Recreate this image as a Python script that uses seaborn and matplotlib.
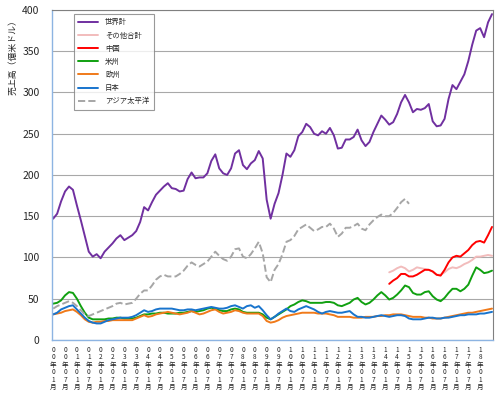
#!/usr/bin/env python3
"""Monthly semiconductor sales by region (3-month moving average)."""

import matplotlib
matplotlib.use("Agg")
import matplotlib.pyplot as plt
import numpy as np
import pandas as pd
import seaborn as sns


# world and regions: every 2 months from 2000-01 (month index 0, 2, ..., 222)
world = [147, 153, 168, 180, 186, 182, 163, 145, 126, 107, 101, 104, 99, 107, 112, 117,
         123, 127, 121, 124, 127, 132, 143, 161, 157, 167, 176, 181, 186, 190, 184, 183,
         180, 181, 195, 203, 196, 197, 197, 202, 217, 225, 208, 202, 200, 208, 226, 230,
         212, 207, 214, 218, 229, 220, 170, 147, 165, 178, 200, 226, 222, 230, 247, 252,
         262, 258, 250, 248, 253, 250, 257, 248, 232, 233, 243, 243, 246, 255, 242, 235,
         240, 252, 262, 272, 267, 261, 264, 274, 288, 297, 288, 276, 280, 279, 281, 286,
         265, 259, 260, 268, 292, 309, 304, 313, 322, 338, 358, 375, 378, 367, 385, 395]
americas = [44, 45, 48, 54, 58, 57, 50, 41, 33, 27, 25, 25, 25, 25, 26, 26,
            27, 27, 26, 26, 26, 27, 29, 31, 31, 32, 32, 33, 33, 32, 32, 32,
            33, 33, 34, 35, 34, 35, 36, 38, 39, 38, 36, 35, 35, 37, 38, 37,
            34, 33, 33, 33, 33, 31, 27, 25, 28, 31, 34, 37, 41, 43, 46, 48,
            47, 45, 45, 45, 45, 46, 46, 45, 42, 41, 43, 45, 49, 51, 46, 43,
            45, 49, 54, 58, 54, 49, 51, 55, 60, 66, 64, 57, 55, 55, 58, 59,
            53, 49, 47, 51, 57, 62, 62, 59, 62, 67, 78, 88, 85, 81, 82, 84]
europe = [31, 32, 33, 35, 36, 37, 34, 30, 25, 22, 21, 22, 22, 23, 23, 24,
          24, 24, 24, 24, 24, 26, 28, 30, 28, 29, 31, 32, 33, 34, 33, 32,
          31, 32, 33, 35, 33, 31, 32, 34, 36, 37, 34, 32, 33, 34, 36, 35,
          33, 32, 32, 32, 32, 29, 23, 21, 22, 24, 27, 29, 30, 31, 32, 33,
          33, 33, 33, 32, 32, 32, 31, 30, 28, 28, 28, 28, 27, 27, 27, 28,
          28, 28, 29, 29, 30, 30, 31, 31, 31, 30, 29, 28, 28, 28, 27, 27,
          26, 26, 26, 27, 28, 29, 30, 31, 32, 33, 33, 34, 35, 36, 37, 38]
japan = [31, 33, 37, 39, 41, 42, 37, 32, 27, 23, 21, 20, 20, 22, 24, 25,
         26, 27, 27, 27, 28, 30, 33, 36, 34, 35, 37, 38, 38, 38, 38, 37,
         36, 36, 37, 37, 36, 37, 38, 39, 40, 39, 38, 38, 39, 41, 42, 40,
         38, 41, 42, 39, 41, 36, 30, 25, 28, 32, 35, 38, 35, 34, 37, 39,
         41, 39, 37, 34, 32, 34, 35, 34, 33, 33, 34, 35, 31, 28, 28, 27,
         27, 28, 29, 30, 29, 28, 29, 30, 30, 29, 26, 25, 25, 25, 26, 27,
         27, 26, 26, 27, 27, 28, 29, 30, 30, 31, 31, 31, 32, 32, 33, 34]
# アジア太平洋: 2000-01 .. 2015-01
asia_pacific = [38, 41, 43, 45, 47, 45, 41, 36, 31, 29, 31, 33, 35, 37, 39, 41,
                44, 45, 43, 44, 45, 50, 56, 60, 60, 66, 73, 77, 79, 77, 77, 77,
                80, 84, 90, 94, 91, 89, 92, 95, 101, 107, 102, 98, 96, 101, 110, 111,
                101, 99, 104, 111, 119, 105, 76, 70, 85, 92, 104, 119, 121, 126, 134, 137,
                140, 136, 132, 134, 137, 137, 141, 135, 125, 129, 136, 136, 138, 141, 135, 133,
                140, 145, 149, 152, 150, 150, 154, 160, 167, 171, 165]
# 中国 / その他合計: 2014-03 .. 2018-07
china = [68, 72, 75, 80, 80, 77, 77, 79, 82, 85, 85, 83, 79, 78, 85, 94,
         100, 102, 101, 105, 109, 115, 119, 120, 118, 127, 137]
others = [82, 84, 87, 89, 87, 83, 85, 88, 87, 86, 85, 83, 79, 79, 82, 86,
          88, 87, 89, 92, 94, 97, 101, 101, 102, 103, 102]

tick_labels = [f"{y:02d}年{mo:02d}月" for y in range(0, 19) for mo in (1, 7)][:37]

STEP = 2
CHINA_START = 170


def main() -> None:
    sns.set_style("white")
    plt.rcParams["font.family"] = ["Noto Sans CJK JP", "DejaVu Sans"]

    m_all = np.arange(len(world)) * STEP
    m_ap = np.arange(len(asia_pacific)) * STEP
    m_cn = CHINA_START + np.arange(len(china)) * STEP

    fig = plt.figure(figsize=(5.0, 3.99), dpi=100)
    ax = fig.add_axes([0.104, 0.148, 0.882, 0.827])

    series = [
        ("世界計", m_all, world, "#7030A0", "-"),
        ("その他合計", m_cn, others, "#F2BCBC", "-"),
        ("中国", m_cn, china, "#FF0000", "-"),
        ("米州", m_all, americas, "#10A010", "-"),
        ("欧州", m_all, europe, "#F07A1A", "-"),
        ("日本", m_all, japan, "#1874CD", "-"),
        ("アジア太平洋", m_ap, asia_pacific, "#A6A6A6", "--"),
    ]
    for name, xs, ys, color, ls in series:
        sns.lineplot(x=xs, y=ys, ax=ax, color=color, linestyle=ls, linewidth=1.4,
                     label=name)

    ax.set_xlim(-0.6, 222.5)
    ax.set_ylim(0, 400)
    ax.set_yticks(range(0, 401, 50))
    ax.tick_params(axis="y", labelsize=7.5, length=0, pad=9)
    ax.yaxis.grid(True, color="#A8A8A8", linewidth=0.8)
    ax.set_axisbelow(True)

    ax.set_xticks(np.arange(0, 217, 6))
    ax.set_xticklabels(["\n".join(t) for t in tick_labels], fontsize=4.7,
                       linespacing=0.92, color="#222222")
    ax.set_xticks(np.arange(0, 223, 3), minor=True)
    ax.tick_params(axis="x", which="both", length=2.5, color="#8DB4E2", pad=1.5)

    ax.set_ylabel("")
    ax.set_xlabel("")
    fig.text(0.025, 0.962, "売上高（億米ドル）", rotation=90, fontsize=6.4,
             ha="center", va="top")

    for side in ("left", "bottom"):
        ax.spines[side].set_color("#8DB4E2")
        ax.spines[side].set_linewidth(1.0)
    for side in ("top", "right"):
        ax.spines[side].set_color("#808080")
        ax.spines[side].set_linewidth(0.8)

    leg = ax.legend(loc="upper left", bbox_to_anchor=(0.05, 0.988), fontsize=5.3,
                    frameon=True, fancybox=False, handlelength=2.7,
                    handletextpad=0.9, borderpad=0.6, labelspacing=0.7,
                    borderaxespad=0)
    leg.get_frame().set_edgecolor("#808080")
    leg.get_frame().set_linewidth(0.8)

    fig.savefig("out.png", dpi=100)
    plt.close(fig)


if __name__ == "__main__":
    main()
